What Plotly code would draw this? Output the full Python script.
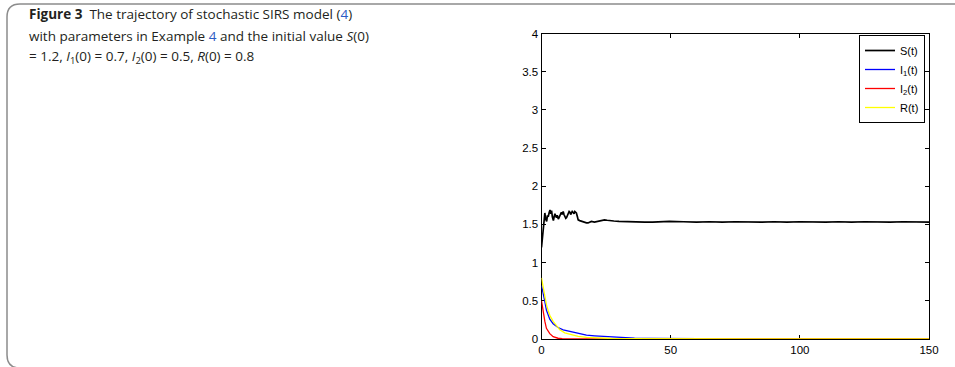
import plotly.graph_objects as go

W, H = 955, 367

# ---------------- data ----------------
t_S = [0, 0.3, 0.7, 1.0, 1.3, 1.6, 2.0, 2.3, 2.6, 3.0,
       3.3, 3.6, 3.9, 4.2, 4.6, 4.9, 5.2, 5.5, 5.8, 6.1,
       6.5, 6.8, 7.1, 7.4, 7.7, 8.0, 8.4, 8.7, 9.0, 9.4,
       9.7, 10.0, 10.3, 10.7, 11.0, 11.3, 11.6, 11.9, 12.2, 12.6,
       12.9, 13.2, 13.5, 13.9, 14.2, 14.8, 15.5, 16.1, 16.7, 17.4,
       18.0, 18.6, 19.3, 20.5, 21.5, 22.5, 23.5, 24.4, 25.4, 26.3,
       28, 30, 33, 36.5, 40, 43, 46, 49.5, 55, 60,
       65, 70, 75, 80, 85, 90, 95, 100, 105, 110,
       115, 120, 125, 130, 135, 140, 145, 150]
S_vals = [1.20, 1.32, 1.45, 1.58, 1.65, 1.57, 1.54, 1.62, 1.60, 1.66,
          1.69, 1.64, 1.68, 1.60, 1.55, 1.60, 1.64, 1.61, 1.59, 1.62,
          1.57, 1.59, 1.61, 1.64, 1.66, 1.63, 1.67, 1.63, 1.60, 1.58,
          1.59, 1.62, 1.64, 1.67, 1.66, 1.63, 1.65, 1.67, 1.66, 1.64,
          1.67, 1.66, 1.65, 1.60, 1.56, 1.55, 1.54, 1.53, 1.53, 1.52,
          1.52, 1.53, 1.54, 1.53, 1.54, 1.55, 1.555, 1.56, 1.555, 1.55,
          1.545, 1.54, 1.535, 1.53, 1.53, 1.53, 1.535, 1.54, 1.535, 1.53,
          1.535, 1.53, 1.535, 1.53, 1.53, 1.535, 1.53, 1.535, 1.53, 1.53,
          1.535, 1.53, 1.535, 1.53, 1.53, 1.535, 1.535, 1.53]

t_I1 = [0, 0.6, 1.3, 1.9, 2.6, 3.2, 4.5, 5.8, 6.4, 8.4, 11, 14.2, 17.4,
        20.6, 23.8, 27, 30, 36, 42, 50, 60, 80, 100, 125, 150]
I1_vals = [0.70, 0.58, 0.49, 0.38, 0.31, 0.26, 0.20, 0.165, 0.15, 0.12, 0.10,
           0.07, 0.05, 0.042, 0.035, 0.027, 0.02, 0.012, 0.008, 0.005, 0.003,
           0.001, 0.0, 0.0, 0.0]

t_I2 = [0, 0.3, 0.6, 1.0, 1.3, 1.9, 2.6, 3.2, 4.5, 5.5, 6.4, 8, 10, 15, 25,
        50, 100, 150]
I2_vals = [0.50, 0.43, 0.36, 0.29, 0.23, 0.14, 0.10, 0.07, 0.03, 0.018, 0.01,
           0.005, 0.002, 0, 0, 0, 0, 0]

t_R = [0, 0.6, 1.3, 1.9, 2.6, 3.2, 4.5, 5.8, 7.1, 9.0, 11, 14.2, 17.4, 20.6,
       23.8, 27, 32, 40, 50, 60, 80, 100, 125, 150]
R_vals = [0.80, 0.69, 0.55, 0.45, 0.37, 0.31, 0.23, 0.17, 0.12, 0.08, 0.06,
          0.035, 0.02, 0.014, 0.01, 0.007, 0.004, 0.002, 0.001, 0, 0, 0, 0, 0]

series_names = ["S(t)", "I<sub>1</sub>(t)", "I<sub>2</sub>(t)", "R(t)"]
series_colors = ["#000000", "#0000ff", "#ff0000", "#ffff00"]

x_ticks = [0, 50, 100, 150]
y_ticks = [0, 0.5, 1, 1.5, 2, 2.5, 3, 3.5, 4]
y_tick_text = ["0", "0.5", "1", "1.5", "2", "2.5", "3", "3.5", "4"]

caption_lines = [
    "<b>Figure 3</b>  The trajectory of stochastic SIRS model (<span style='color:#2b5cc4'>4</span>)",
    "with parameters in Example <span style='color:#2b5cc4'>4</span> and the initial value <i>S</i>(0)",
    "= 1.2, <i>I</i><sub>1</sub>(0) = 0.7, <i>I</i><sub>2</sub>(0) = 0.5, <i>R</i>(0) = 0.8",
]

# ---------------- figure ----------------
fig = go.Figure()
all_t = [t_S, t_I1, t_I2, t_R]
all_v = [S_vals, I1_vals, I2_vals, R_vals]
widths = [1.7, 1.3, 1.3, 1.3]
for t, v, name, col, w in zip(all_t, all_v, series_names, series_colors, widths):
    fig.add_trace(go.Scatter(x=t, y=v, mode="lines", name=name,
                             line=dict(color=col, width=w)))


def px(x):
    return x / W


def py(y):
    return 1 - y / H


axis_font = dict(family="Liberation Sans, Arial, sans-serif", size=11.5, color="#000")

fig.update_layout(
    width=W, height=H,
    margin=dict(l=0, r=0, t=0, b=0, autoexpand=False),
    paper_bgcolor="white", plot_bgcolor="white",
    xaxis=dict(domain=[px(541.5), px(929)], range=[0, 150],
               tickvals=x_ticks, ticks="inside", ticklen=4, tickcolor="#000",
               showline=True, linecolor="#000", linewidth=1, mirror="ticks",
               showgrid=False, zeroline=False, tickfont=axis_font,
               layer="below traces", automargin=False),
    yaxis=dict(domain=[py(339), py(33.5)], range=[0, 4],
               tickvals=y_ticks, ticktext=y_tick_text, ticks="inside", ticklen=4,
               tickcolor="#000", showline=True, linecolor="#000", linewidth=1,
               mirror="ticks", showgrid=False, zeroline=False, tickfont=axis_font,
               layer="below traces", automargin=False),
    legend=dict(x=px(925), y=py(35), xanchor="right", yanchor="top",
                bgcolor="white", bordercolor="#000", borderwidth=1,
                font=dict(family="Liberation Sans, Arial, sans-serif", size=11, color="#000"),
                itemwidth=30, tracegroupgap=0),
    showlegend=True,
)

cap_font = dict(family="Open Sans, Noto Sans, sans-serif", size=13.5, color="#231f20")
for line, yc in zip(caption_lines, [14.5, 36, 57]):
    fig.add_annotation(x=px(27), y=py(yc), xref="paper", yref="paper",
                       text=line, showarrow=False, xanchor="left", yanchor="middle",
                       align="left", font=cap_font)

# rounded gray frame around the figure (top and left visible)
r_px = 13
x0, y0, yb = 7, 4, 368
path = (f"M {px(W)},{py(y0)} L {px(x0 + r_px)},{py(y0)} "
        f"Q {px(x0)},{py(y0)} {px(x0)},{py(y0 + r_px)} "
        f"L {px(x0)},{py(yb - r_px)} "
        f"Q {px(x0)},{py(yb)} {px(x0 + r_px)},{py(yb)}")
fig.add_shape(type="path", path=path, xref="paper", yref="paper",
              line=dict(color="#8c8c8c", width=1.5))

fig.write_html("out.html")
